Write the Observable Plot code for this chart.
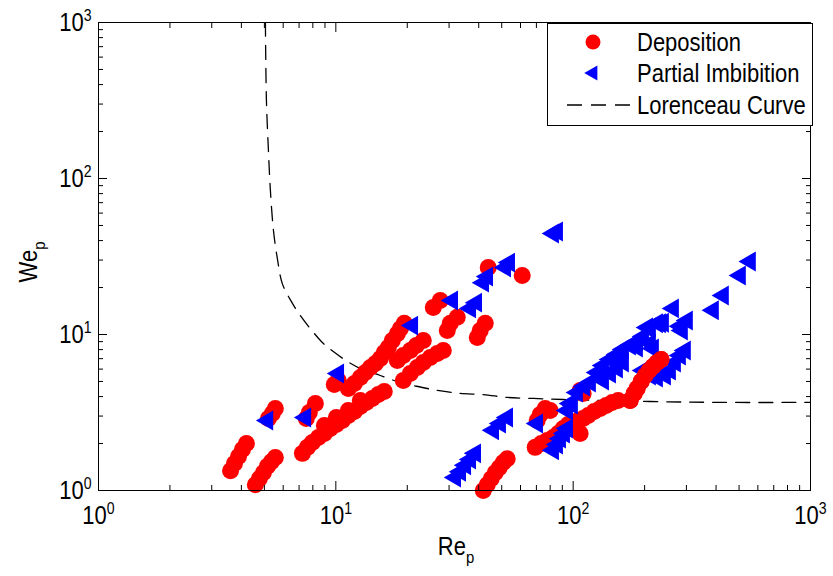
<!DOCTYPE html>
<html><head><meta charset="utf-8">
<script src="https://cdn.jsdelivr.net/npm/d3@7"></script>
<script src="https://cdn.jsdelivr.net/npm/@observablehq/plot@0.6"></script>
<style>
body{margin:0;background:#fff;}
#chart{width:833px;height:576px;}
</style></head><body><div id="chart"></div>
<script>
// ---- data ----
const depositionRe = [3.60,3.74,3.89,4.04,4.20,4.58,4.76,4.95,5.15,5.35,5.56,5.40,5.20,5.56,8.20,7.73,7.51,
  7.23,7.59,7.96,8.44,8.95,9.48,10.05,10.65,11.29,11.97,12.68,13.44,14.25,15.10,16.00,8.95,10.05,11.29,12.68,
  10.24,9.85,11.29,11.97,12.68,13.31,13.98,14.67,15.40,16.00,16.64,17.29,18.16,18.69,19.43,
  18.16,19.24,20.59,21.83,23.36,19.24,20.59,22.04,23.36,25.00,26.76,28.36,25.74,27.54,29.48,30.35,32.47,
  39.44,40.59,42.61,43.87,61.0,
  41.80,43.45,45.15,46.94,48.80,50.73,52.74,70.53,72.61,76.21,69.18,73.32,77.70,82.37,86.45,90.77,95.26,100,
  104.9,110.2,115.7,122.6,130.0,137.7,146.0,154.7,80.0,110.2,107.0,173.8,180.7,186.0,193.4,201.1,208.9,217.2,225.8,234.7,107.0];
const depositionWe = [1.34,1.49,1.65,1.83,2.00,1.09,1.19,1.30,1.43,1.53,1.63,3.12,2.89,3.36,3.61,3.16,2.89,
  1.73,1.89,2.03,2.19,2.32,2.50,2.65,2.81,3.03,3.21,3.46,3.67,3.89,4.12,4.31,2.61,2.94,3.26,3.78,
  5.07,4.78,4.51,4.85,5.30,5.71,6.14,6.52,7.02,7.67,8.25,9.15,10.1,10.9,11.8,
  6.81,7.33,7.90,8.50,9.15,5.07,5.62,6.14,6.61,7.12,7.55,7.90,14.9,16.5,10.6,11.8,12.9,
  9.57,10.6,11.8,26.9,23.9,
  1.00,1.09,1.19,1.30,1.40,1.51,1.60,2.81,3.07,3.36,1.89,2.00,2.09,2.19,2.32,2.50,2.65,2.73,
  2.81,2.89,3.03,3.21,3.36,3.51,3.67,3.78,3.26,4.19,4.38,3.78,4.19,4.51,5.00,5.46,5.88,6.24,6.61,6.92,2.32];
const imbibitionRe = [5.15,7.44,10.24,21.00,30.94,36.85,39.06,41.80,43.45,51.72,53.77,82.37,85.62,
  31.86,33.44,35.11,36.85,38.68,46.04,49.27,52.74,70.53,82.37,85.62,88.16,91.65,94.35,94.35,99.0,
  97.14,103.9,111.3,117.9,126.2,133.8,143.2,153.2,162.4,173.8,186.0,197.2,211.0,225.8,239.3,263.8,282.2,302.0,287.7,
  133.8,143.2,153.2,162.4,197.2,211.0,225.8,244.0,256.1,268.9,282.2,296.2,205.0,232.5,
  388.6,428.2,505,556.2,186.0,211.0,217.2];
const imbibitionWe = [2.81,2.94,5.62,11.4,16.5,14.7,16.0,21.5,23.5,26.9,28.9,44.4,45.7,
  1.21,1.32,1.45,1.58,1.73,2.43,2.69,2.94,2.69,1.81,1.97,2.15,2.32,2.50,3.26,3.56,
  3.61,4.25,4.64,4.92,5.71,6.33,6.92,7.44,8.01,8.50,9.02,9.71,11.1,11.8,11.9,14.7,11.3,12.3,10.6,
  5.07,5.62,6.05,6.61,5.88,5.46,5.30,5.46,5.88,6.61,7.33,7.90,11.1,11.8,
  14.3,17.8,23.9,29.4,8.25,8.75,8.13];
const lorenceauRe = [5.05,5.10,5.20,5.30,5.46,5.67,5.95,6.49,7.09,7.81,8.77,9.76,11.2,12.7,15.4,18.69,21.2,
  26.8,33.4,41.8,52.7,67.9,90.8,130,211,416,1000];
const lorenceauWe = [1000,316,151,83.8,46.4,30.7,21.2,16.3,13.2,10.9,8.89,7.78,6.71,6.05,5.46,4.92,4.71,
  4.38,4.19,4.12,3.95,3.89,3.83,3.78,3.72,3.67,3.67];
const majorTicks = [1,10,100,1000];
const tickExponents = ["0","1","2","3"];
const minorTicks = [2,3,4,5,6,7,8,9,20,30,40,50,60,70,80,90,200,300,400,500,600,700,800,900];
const legendLabels = ["Deposition","Partial Imbibition","Lorenceau Curve"];

const FONT = "'Liberation Sans', Arial, Helvetica, sans-serif";
const SQUEEZE = 0.88;   // narrow, tall glyphs as in the reference
const deposition = depositionRe.map((v,i)=>({Re:v, We:depositionWe[i]}));
const imbibition = imbibitionRe.map((v,i)=>({Re:v, We:imbibitionWe[i]}));
const lorenceau = lorenceauRe.map((v,i)=>({Re:v, We:lorenceauWe[i]}));
const fmt = d => "10^" + tickExponents[majorTicks.indexOf(d)];

const plot = Plot.plot({
  width: 833, height: 576,
  marginLeft: 98, marginRight: 23, marginTop: 22, marginBottom: 86,
  x: {type: "log", domain: [1, 1000], label: null},
  y: {type: "log", domain: [1, 1000], label: null},
  style: {fontFamily: FONT, fontSize: "25px", color: "black", background: "white", overflow: "visible"},
  marks: [
    Plot.line(lorenceau, {x: "Re", y: "We", stroke: "black", strokeWidth: 1.3, strokeDasharray: "14,9", curve: "catmull-rom", clip: true}),
    Plot.dot(deposition, {x: "Re", y: "We", r: 8.5, fill: "#ff0000", stroke: "none"}),
    Plot.dot(imbibition, {x: "Re", y: "We", r: 7.4, symbol: "triangle", rotate: -90, fill: "#0000ff", stroke: "none"}),
    Plot.dot(deposition.filter(d => d.Re > 160 && d.We > 3.7), {x: "Re", y: "We", r: 8.5, fill: "#ff0000", stroke: "none"}),
    Plot.frame({stroke: "black"}),
    // inward ticks on all four sides
    Plot.axisX({anchor: "bottom", ticks: majorTicks, tickSize: -9, fill: "none", label: null}),
    Plot.axisX({anchor: "bottom", ticks: minorTicks, tickSize: -5, fill: "none", label: null}),
    Plot.axisX({anchor: "top", ticks: majorTicks, tickSize: -9, fill: "none", label: null}),
    Plot.axisX({anchor: "top", ticks: minorTicks, tickSize: -5, fill: "none", label: null}),
    Plot.axisY({anchor: "left", ticks: majorTicks, tickSize: -9, fill: "none", label: null}),
    Plot.axisY({anchor: "left", ticks: minorTicks, tickSize: -5, fill: "none", label: null}),
    Plot.axisY({anchor: "right", ticks: majorTicks, tickSize: -9, fill: "none", label: null}),
    Plot.axisY({anchor: "right", ticks: minorTicks, tickSize: -5, fill: "none", label: null}),
    // labels
    Plot.axisX({anchor: "bottom", ticks: majorTicks, tickSize: 0, tickPadding: 16, tickFormat: fmt, label: null}),
    Plot.axisY({anchor: "left", ticks: majorTicks, tickSize: 0, tickPadding: 7, tickFormat: fmt, label: null})
  ]
});
document.getElementById("chart").appendChild(plot);

const svg = d3.select(plot);
svg.selectAll("text").each(function(){
  const m = /^10\^(\d+)$/.exec(this.textContent.trim());
  if (m) {
    const el = d3.select(this);
    el.text("10");
    el.append("tspan").attr("dy", "-10").attr("font-size", "16px").text(m[1]);
    const tr = this.getAttribute("transform") || "";
    this.setAttribute("transform", `${tr} scale(${SQUEEZE},1)`);
  }
});

// axis titles
const xt = svg.append("text").attr("transform", `translate(456,555) scale(${SQUEEZE},1)`).attr("text-anchor", "middle")
  .attr("font-family", FONT).attr("font-size", "25px").attr("fill", "black");
xt.append("tspan").text("Re");
xt.append("tspan").attr("dy", "8").attr("font-size", "17px").text("p");
const yt = svg.append("text").attr("transform", `translate(37,262) rotate(-90) scale(${SQUEEZE},1)`).attr("text-anchor", "middle")
  .attr("font-family", FONT).attr("font-size", "25px").attr("fill", "black");
yt.append("tspan").text("We");
yt.append("tspan").attr("dy", "8").attr("font-size", "17px").text("p");

// legend
const lg = svg.append("g");
lg.append("rect").attr("x", 547.5).attr("y", 23.5).attr("width", 265).attr("height", 102)
  .attr("fill", "white").attr("stroke", "black");
const rows = [42, 73, 105];
lg.append("circle").attr("cx", 593).attr("cy", rows[0]).attr("r", 7.5).attr("fill", "#ff0000");
lg.append("path").attr("d", d3.symbol(d3.symbolTriangle, 100)())
  .attr("transform", `translate(593,${rows[1]}) rotate(-90)`).attr("fill", "#0000ff");
lg.append("line").attr("x1", 567).attr("x2", 630).attr("y1", rows[2]).attr("y2", rows[2])
  .attr("stroke", "black").attr("stroke-width", 1.3).attr("stroke-dasharray", "15,9");
legendLabels.forEach((t, i) => {
  lg.append("text").attr("transform", `translate(637,${rows[i] + 8.5}) scale(${SQUEEZE},1)`).attr("text-anchor", "start")
    .attr("font-family", FONT).attr("font-size", "25px").attr("fill", "black").text(t);
});
</script>
</body></html>
